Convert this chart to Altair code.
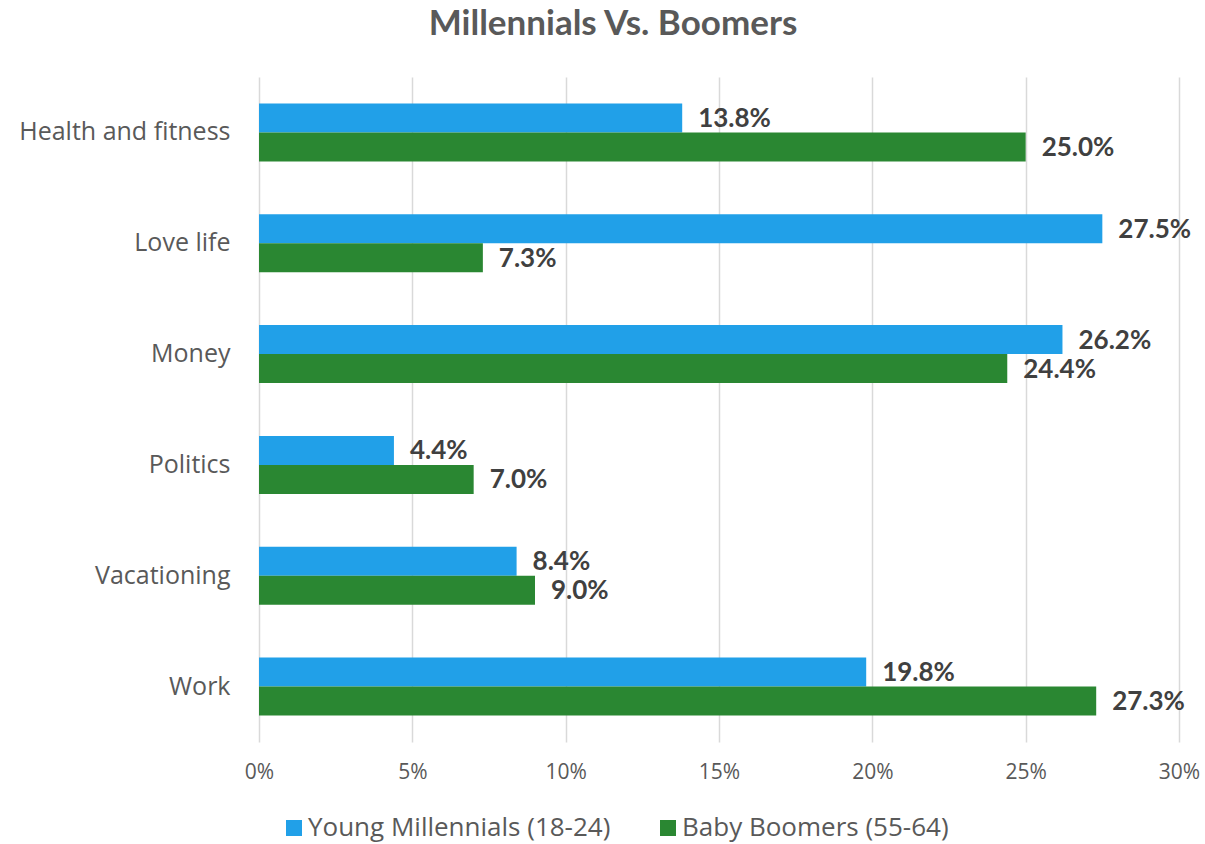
import altair as alt
import pandas as pd

categories = ["Health and fitness", "Love life", "Money", "Politics", "Vacationing", "Work"]
series = ["Young Millennials (18-24)", "Baby Boomers (55-64)"]
millennials = [13.8, 27.5, 26.2, 4.4, 8.4, 19.8]
boomers = [25.0, 7.3, 24.4, 7.0, 9.0, 27.3]
colors = ["#21A0E8", "#2A8732"]

rows = []
for c, m, b in zip(categories, millennials, boomers):
    rows.append({"cat": c, "series": series[0], "v": m / 100})
    rows.append({"cat": c, "series": series[1], "v": b / 100})
df = pd.DataFrame(rows)

AXFONT = "Open Sans"
BOLD = "Lato"

y = alt.Y("cat:N", sort=categories, title=None,
          scale=alt.Scale(paddingInner=0.476, paddingOuter=0.238),
          axis=alt.Axis(labelFontSize=25, labelColor="#595959", labelFont=AXFONT,
                        labelPadding=29, labelLimit=400, ticks=False, domain=False, grid=False))
x = alt.X("v:Q", title=None,
          scale=alt.Scale(domain=[0, 0.30], nice=False),
          axis=alt.Axis(format=".0%", values=[0, 0.05, 0.10, 0.15, 0.20, 0.25, 0.30],
                        labelFontSize=21, labelColor="#595959", labelFont=AXFONT,
                        labelFlush=False, labelPadding=19, ticks=False, domain=False,
                        grid=True, gridColor="#D9D9D9", gridWidth=1.5))
yoff = alt.YOffset("series:N", sort=series)

bars = alt.Chart(df).mark_bar().encode(
    y=y, x=x, yOffset=yoff,
    color=alt.Color("series:N", sort=series,
                    scale=alt.Scale(domain=series, range=colors),
                    legend=alt.Legend(title=None, orient="none", direction="horizontal",
                                      legendX=22, legendY=738,
                                      symbolType="square", symbolSize=256,
                                      symbolStrokeWidth=0, symbolOpacity=1,
                                      labelOffset=1,
                                      labelFontSize=26, labelColor="#595959",
                                      labelFont=AXFONT, columnPadding=44, labelLimit=400)),
)

labels = alt.Chart(df).mark_text(
    align="left", baseline="middle", dx=16, dy=1, fontSize=26, fontWeight="bold",
    color="#404040", font=BOLD
).encode(
    y=alt.Y("cat:N", sort=categories), x=alt.X("v:Q"), yOffset=yoff,
    text=alt.Text("v:Q", format=".1%"),
)

chart = alt.layer(bars, labels).properties(
    width=920, height=665,
    title=alt.TitleParams("Millennials Vs. Boomers", fontSize=35, fontWeight="bold",
                          color="#595959", font=BOLD, anchor="middle", dx=-106, offset=35),
    autosize=alt.AutoSizeParams(type="none"),
    padding={"left": 259, "top": 77, "right": 26, "bottom": 102},
    background="white",
).configure_view(stroke=None)

chart.save("out.html", embed_options={"renderer": "svg", "actions": False})
